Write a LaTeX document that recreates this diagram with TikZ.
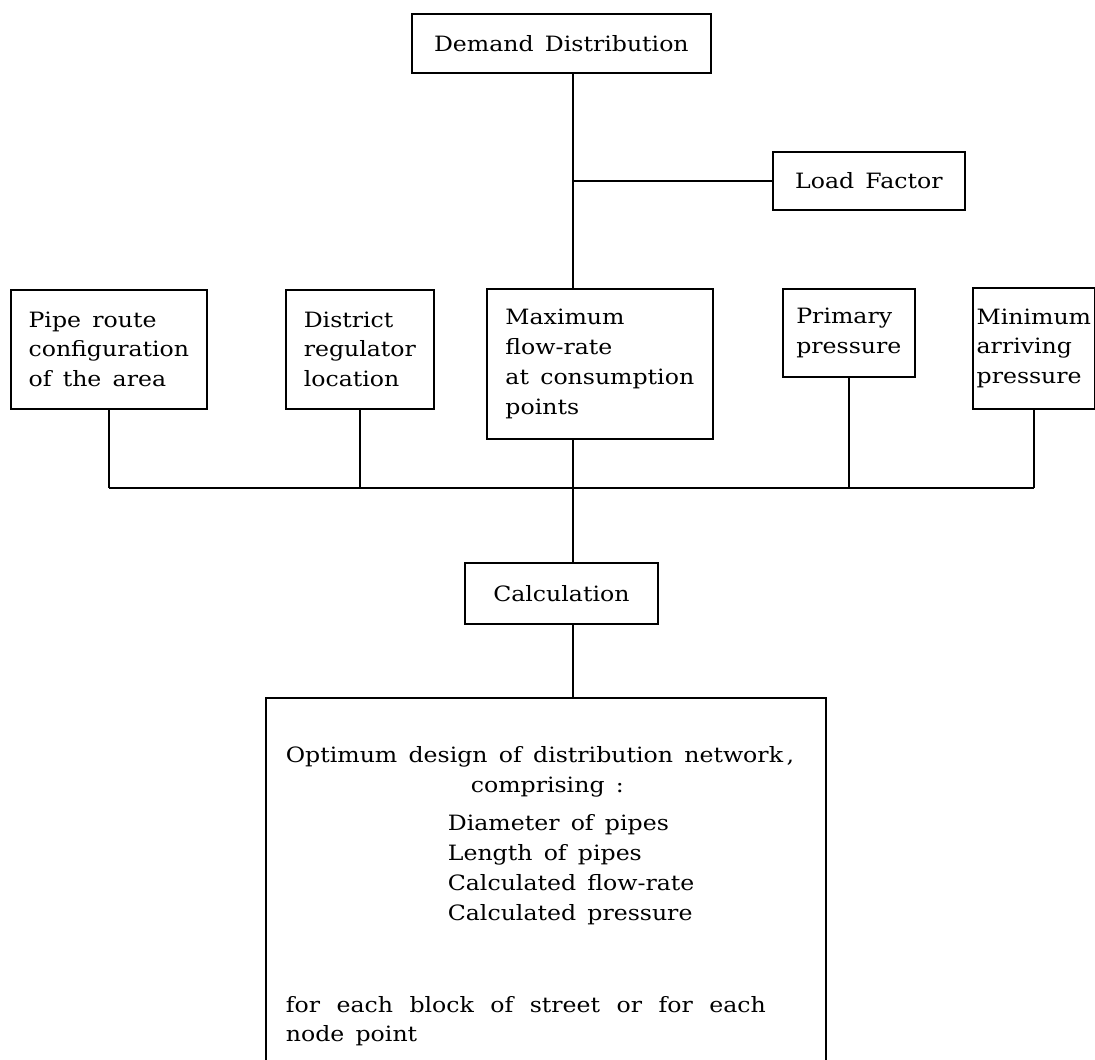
\documentclass[tikz,border=0pt]{standalone}
\usepackage{fontspec}
\setmainfont{DejaVu Serif}[FakeStretch=1.12, WordSpace=1.5]
\usepackage{tikz}
\usetikzlibrary{positioning, calc}

\begin{document}
\begin{tikzpicture}[x=0.02cm, y=-0.02cm,
  box/.style={draw, line width=1pt, align=left, anchor=north west, inner sep=2pt,
    font=\fontsize{12}{17}\selectfont},
  wire/.style={line width=1pt}]
\useasboundingbox (0,0) rectangle (1095,1060);

% top of the chart
\node[box, minimum width=5.98cm, minimum height=1.18cm] (dem) at (411,13) {Demand Distribution};
\node[box, minimum width=3.84cm, minimum height=1.16cm] (load) at (772,151) {Load Factor};

% row of input data
\node[box, minimum width=3.92cm, minimum height=2.38cm] (pipe) at (10,289) {Pipe route\\configuration\\of the area};
\node[box, minimum width=2.96cm, minimum height=2.38cm] (dist) at (285,289) {District\\regulator\\location};
\node[box, minimum width=4.52cm, minimum height=3.00cm] (max) at (486,288) {Maximum\\flow-rate\\at consumption\\points};
\node[box, minimum width=2.64cm, minimum height=1.76cm] (prim) at (782,288) {Primary\\pressure};
\node[box, minimum width=2.44cm, minimum height=2.42cm] (min) at (972,287) {Minimum\\arriving\\pressure};

\node[box, align=center, minimum width=3.86cm, minimum height=1.22cm] (calc) at (464,562) {Calculation};

% result box, runs off the bottom of the page
\node[box, inner xsep=0.4cm, inner ysep=0.98cm] (opt) at (265,697) {\parbox[t][8cm][t]{10.4cm}{%
Optimum design of distribution network\,,\\
\hspace*{3.7cm}comprising :\\[0.16cm]
\hspace*{3.24cm}Diameter of pipes\\
\hspace*{3.24cm}Length of pipes\\
\hspace*{3.24cm}Calculated flow-rate\\
\hspace*{3.24cm}Calculated pressure\\[1.24cm]
\makebox[9.6cm][s]{for each block of street or for each}\\
node point}};

\coordinate (spine) at (573,0);
\coordinate (bus) at (0,488);

\draw[wire] (dem.south -| spine) -- (max.north -| spine);
\draw[wire] (spine |- load.west) -- (load.west);
\draw[wire] (max.south -| spine) -- (calc.north -| spine);
\draw[wire] (calc.south -| spine) -- (opt.north -| spine);
\draw[wire] (pipe.south |- bus) -- (min.south |- bus);
\foreach \n in {pipe,dist,prim,min}
  \draw[wire] (\n.south) -- (\n.south |- bus);
\end{tikzpicture}
\end{document}
